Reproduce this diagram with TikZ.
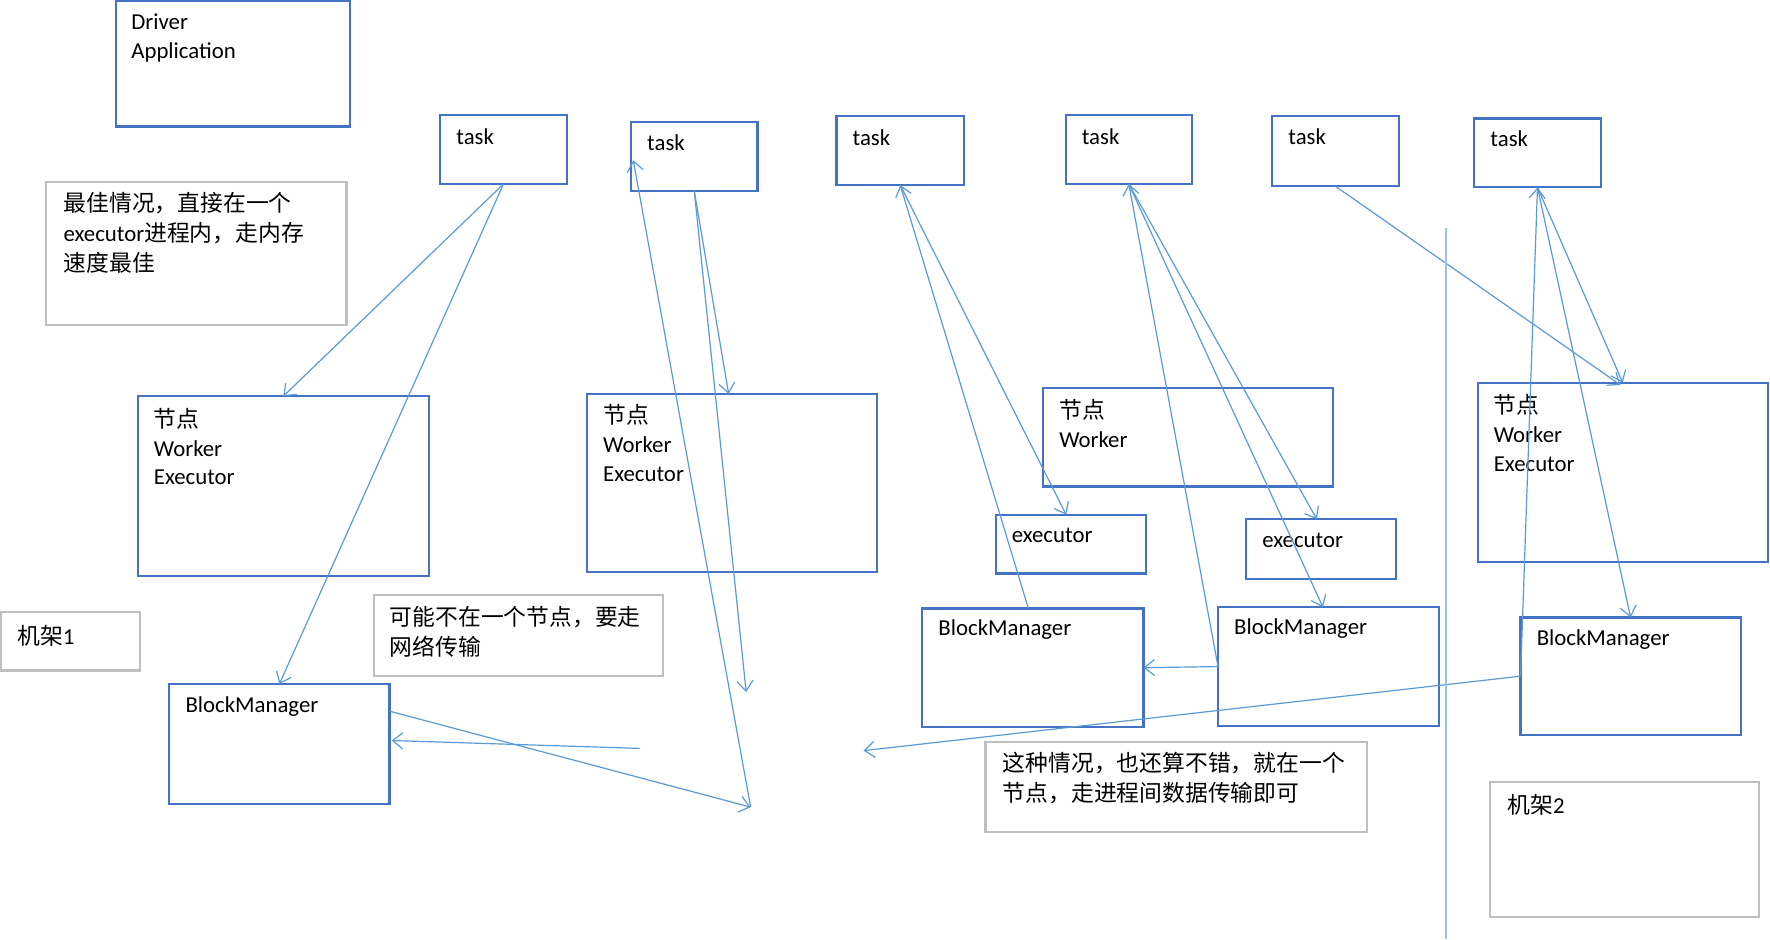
\documentclass[tikz,border=0pt]{standalone}
\usepackage{fontspec}
\setmainfont{Carlito}
\newfontfamily\cjk{Noto Sans CJK SC}
\usetikzlibrary{arrows.meta,fit,calc}
\definecolor{boxblue}{HTML}{4472C4}
\definecolor{lineblue}{HTML}{5B9BD5}
\definecolor{boxgray}{HTML}{BFBFBF}
\definecolor{sepblue}{HTML}{9DC3E6}
\newcommand{\mylines}[1]{\begin{tabular}[t]{@{}l@{}}#1\end{tabular}}
\begin{document}
\begin{tikzpicture}[x=0.5644pt,y=-0.5644pt,
  bluebox/.style={draw=boxblue, line width=1.1pt, inner sep=0pt, outer sep=0pt},
  graybox/.style={draw=boxgray, line width=1.1pt, inner sep=0pt, outer sep=0pt},
  txt/.style={inner sep=0pt, anchor=base west, font=\fontsize{11.4}{14.4}\selectfont},
  ctxt/.style={inner sep=0pt, anchor=base west, font=\fontsize{11.4}{15}\selectfont\cjk},
  conn/.style={draw=lineblue, line width=0.6pt, -{Straight Barb[length=5pt,width=8pt]}},
]
\fill[white] (0,0) rectangle (1568,832);
\useasboundingbox (0,0) rectangle (1568,832);

% ---- boxes ----
\node[bluebox, fit={(103,1) (310,112)}] (drv) {};
\node[bluebox, fit={(390,102) (502,163)}] (t1) {};
\node[bluebox, fit={(559,108) (671,169)}] (t2) {};
\node[bluebox, fit={(741,103) (854,164)}] (t3) {};
\node[bluebox, fit={(944,102) (1056,163)}] (t4) {};
\node[bluebox, fit={(1127,103) (1239,165)}] (t5) {};
\node[bluebox, fit={(1306,105) (1418,166)}] (t6) {};
\node[graybox, fit={(41,161) (307,288)}] (g1) {};
\node[bluebox, fit={(122,351) (380,510)}] (n1) {};
\node[bluebox, fit={(520,349) (777,507)}] (n2) {};
\node[bluebox, fit={(924,344) (1181,431)}] (n3) {};
\node[bluebox, fit={(1309,339) (1566,498)}] (n4) {};
\node[bluebox, fit={(882,456) (1015,508)}] (e1) {};
\node[bluebox, fit={(1104,460) (1237,513)}] (e2) {};
\node[graybox, fit={(1,542) (124,594)}] (r1) {};
\node[graybox, fit={(331,527) (587,599)}] (g2) {};
\node[bluebox, fit={(150,606) (345,712)}] (bm1) {};
\node[bluebox, fit={(817,539) (1013,644)}] (bm2) {};
\node[bluebox, fit={(1079,538) (1275,643)}] (bm3) {};
\node[bluebox, fit={(1347,547) (1542,651)}] (bm4) {};
\node[graybox, fit={(873,657) (1211,737)}] (g3) {};
\node[graybox, fit={(1320,693) (1558,812)}] (r2) {};

% ---- texts ----
\node[txt] (drvL) at (116,26) {\mylines{Driver\\Application}};
\node[txt] (t1L) at (404,128) {task};
\node[txt] (t2L) at (573,133) {task};
\node[txt] (t3L) at (755,129) {task};
\node[txt] (t4L) at (958,128) {task};
\node[txt] (t5L) at (1141,128) {task};
\node[txt] (t6L) at (1320,130) {task};
\node[ctxt] (g1L) at (56,187.5) {\mylines{最佳情况，直接在一个\\{\rmfamily executor}进程内，走内存\\速度最佳}};
\node[txt] (n1L) at (136,378.5) {\mylines{{\cjk 节点}\\Worker\\Executor}};
\node[txt] (n2L) at (534,375.5) {\mylines{{\cjk 节点}\\Worker\\Executor}};
\node[txt] (n3L) at (938,370.5) {\mylines{{\cjk 节点}\\Worker}};
\node[txt] (n4L) at (1323,366.5) {\mylines{{\cjk 节点}\\Worker\\Executor}};
\node[txt] (e1L) at (896,481) {executor};
\node[txt] (e2L) at (1118,485) {executor};
\node[ctxt] (r1L) at (15,570.5) {机架{\rmfamily 1}};
\node[ctxt] (g2L) at (345,554.5) {\mylines{可能不在一个节点，要走\\网络传输}};
\node[txt] (bm1L) at (164,631) {BlockManager};
\node[txt] (bm2L) at (831,563) {BlockManager};
\node[txt] (bm3L) at (1093,562) {BlockManager};
\node[txt] (bm4L) at (1361,572) {BlockManager};
\node[ctxt] (g3L) at (888,683.5) {\mylines{这种情况，也还算不错，就在一个\\节点，走进程间数据传输即可}};
\node[ctxt] (r2L) at (1335,720.5) {机架{\rmfamily 2}};

% ---- free ends ----
\coordinate (f1) at (661,613);
\coordinate (f2) at (665,715);
\coordinate (f3) at (567,663);
\coordinate (f4) at (765,665);
\coordinate (t2in) at (561,142);
\coordinate (bm1out) at (345,630);
\coordinate (bm1in) at (347,656);
\coordinate (v1) at (1281,202);
\coordinate (v2) at (1281,832);

% ---- connectors ----
\draw[conn] (t1.south) -- (n1.north);
\draw[conn] (t1.south) -- (bm1.north);
\draw[conn] (t2.south) -- ($(n2.north)+(-3,0)$);
\draw[conn] (t2.south) -- (f1);
\draw[conn] (f2) -- (t2in);
\draw[conn] (bm1out) -- (f2);
\draw[conn] (f3) -- (bm1in);
\draw[conn] (bm4.west) -- (f4);
\draw[conn] (bm4.west) -- (t6.south);
\draw[conn] (t6.south) -- (n4.north);
\draw[conn] (t5.south) -- ($(n4.north)+(-2,2)$);
\draw[conn] (t6.south) -- (bm4.north);
\draw[conn] ($(bm2.north)+(-4,0)$) -- (t3.south);
\draw[conn] (t3.south) -- ($(e1.north)+(-4,0)$);
\draw[conn] (bm3.west) -- (t4.south);
\draw[conn] (t4.south) -- ($(e2.north)+(-4,0)$);
\draw[conn] (t4.south) -- ($(bm3.north)+(-5,0)$);
\draw[conn] (bm3.west) -- (bm2.east);
\draw[draw=sepblue, line width=0.7pt] (v1) -- (v2);
\end{tikzpicture}
\end{document}
